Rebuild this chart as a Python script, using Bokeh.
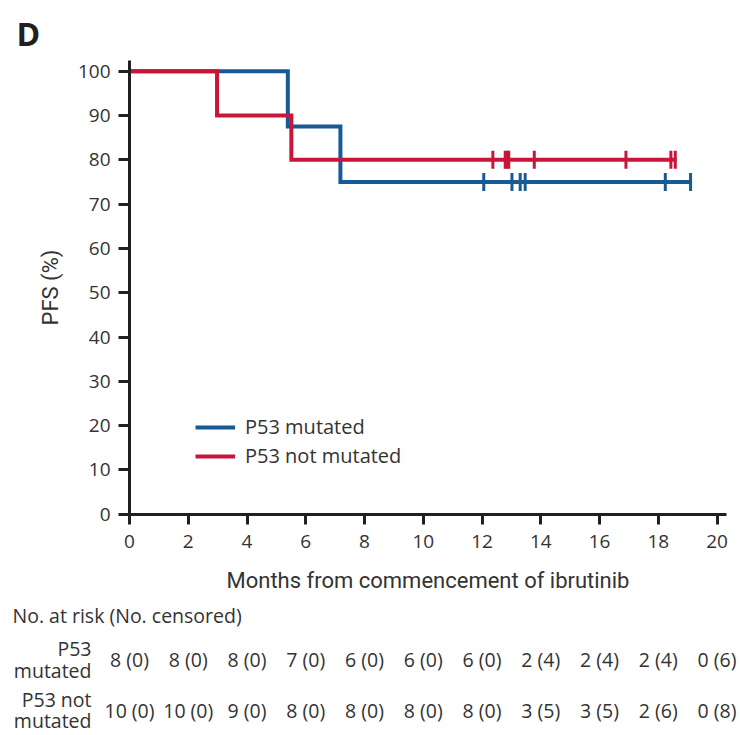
import math
from bokeh.plotting import figure
from bokeh.models import Range1d, Legend, LegendItem, FixedTicker, ColumnDataSource
from bokeh.embed import file_html
from bokeh.resources import INLINE
from bokeh.core.properties import value

# ---------------- data ----------------
mut_event_times = [0, 5.39, 7.18]
mut_surv = [100, 87.5, 75]
mut_last = 19.12
mut_censor = [12.06, 13.02, 13.30, 13.47, 18.24, 19.10]

nm_event_times = [0, 2.98, 5.51]
nm_surv = [100, 90, 80]
nm_last = 18.62
nm_censor = [12.37, 12.79, 12.86, 12.91, 13.78, 16.90, 18.43, 18.58]

x_ticks = [0, 2, 4, 6, 8, 10, 12, 14, 16, 18, 20]
y_ticks = [0, 10, 20, 30, 40, 50, 60, 70, 80, 90, 100]

risk_months = [0, 2, 4, 6, 8, 10, 12, 14, 16, 18, 20]
mut_risk = ["8 (0)", "8 (0)", "8 (0)", "7 (0)", "6 (0)", "6 (0)", "6 (0)", "2 (4)", "2 (4)", "2 (4)", "0 (6)"]
nm_risk = ["10 (0)", "10 (0)", "9 (0)", "8 (0)", "8 (0)", "8 (0)", "8 (0)", "3 (5)", "3 (5)", "2 (6)", "0 (8)"]

labels_mut = ["P53", "mutated"]
labels_nm = ["P53 not", "mutated"]

BLUE = "#175a94"
RED = "#c8163a"
AXIS = "#231f20"
TXT = "#333333"
FONT = "Open Sans"
NARROW = "Roboto"

# ---------------- geometry (canvas pixels) ----------------
W, H = 740, 735
X0_PX, PPM = 129.0, 29.375      # x pixel of month 0, pixels per month
Y0_PX, PPU = 513.7, 4.43        # y pixel of 0 %, pixels per %
X_END, Y_END = 20.31, 102.4     # extent of the drawn axes


def dx(px):
    return (px - X0_PX) / PPM


def dy(py):
    return (Y0_PX - py) / PPU


p = figure(width=W, height=H,
           x_range=Range1d(dx(0), dx(W)), y_range=Range1d(dy(H), dy(0)),
           output_backend="svg", toolbar_location=None,
           min_border=0, min_border_left=0, min_border_right=0,
           min_border_top=0, min_border_bottom=0)
p.outline_line_color = None
p.xgrid.visible = False
p.ygrid.visible = False

r_mut = p.step(x=mut_event_times + [mut_last], y=mut_surv + [mut_surv[-1]], mode="after",
               line_color=BLUE, line_width=4, line_join="miter")
r_nm = p.step(x=nm_event_times + [nm_last], y=nm_surv + [nm_surv[-1]], mode="after",
              line_color=RED, line_width=4, line_join="miter")

p.scatter(x=mut_censor, y=[mut_surv[-1]] * len(mut_censor), marker="dash", angle=math.pi / 2,
          size=18, line_color=BLUE, line_width=3)
p.scatter(x=nm_censor, y=[nm_surv[-1]] * len(nm_censor), marker="dash", angle=math.pi / 2,
          size=18, line_color=RED, line_width=3)

p.xaxis.ticker = FixedTicker(ticks=x_ticks)
p.yaxis.ticker = FixedTicker(ticks=y_ticks)
p.xaxis.fixed_location = 0
p.yaxis.fixed_location = 0
p.xaxis.bounds = (0, X_END)
p.yaxis.bounds = (0, Y_END)
for ax in (p.xaxis, p.yaxis):
    ax.axis_line_color = AXIS
    ax.axis_line_width = 3
    ax.major_tick_line_color = AXIS
    ax.major_tick_line_width = 3
    ax.major_tick_in = 0
    ax.minor_tick_line_color = None
    ax.major_label_text_font = FONT
    ax.major_label_text_font_size = "19px"
    ax.major_label_text_color = TXT
    ax.axis_label_text_font = NARROW
    ax.axis_label_text_font_style = "normal"
    ax.axis_label_text_font_size = "22px"
    ax.axis_label_text_color = TXT
p.xaxis.major_tick_out = 10
p.yaxis.major_tick_out = 11
p.xaxis.major_label_standoff = 11
p.yaxis.major_label_standoff = 8
p.xaxis.axis_label = "Months from commencement of ibrutinib"
p.yaxis.axis_label = "PFS (%)"
p.xaxis.axis_label_standoff = 16
p.yaxis.axis_label_standoff = 12

legend = Legend(items=[LegendItem(label="P53 mutated", renderers=[r_mut]),
                       LegendItem(label="P53 not mutated", renderers=[r_nm])],
                location=(195, H - 469), padding=0, margin=0, spacing=2,
                glyph_width=40, glyph_height=26, label_height=26, label_standoff=10,
                label_text_font=FONT, label_text_font_size="20px", label_text_color=TXT,
                background_fill_alpha=0, border_line_alpha=0)
p.add_layout(legend)

# ---------------- panel letter ----------------
p.text(x=[dx(16)], y=[dy(33)], text=["D"], text_font=value(FONT), text_font_style="bold",
       text_font_size="32px", text_color=AXIS, text_baseline="alphabetic", text_align="left")

# ---------------- at-risk table ----------------
common = dict(text_font=value(FONT), text_font_size="19.5px", text_color=TXT, text_baseline="middle")
p.text(x=[dx(12)], y=[dy(615)], text=["No. at risk (No. censored)"], text_align="left", **common)
p.text(x=[dx(91)] * 2, y=[dy(648), dy(670)], text=labels_mut, text_align="right", **common)
p.text(x=[dx(91)] * 2, y=[dy(699), dy(720)], text=labels_nm, text_align="right", **common)

src_mut = ColumnDataSource(dict(x=risk_months, y=[dy(659)] * len(risk_months), t=mut_risk))
src_nm = ColumnDataSource(dict(x=risk_months, y=[dy(710)] * len(risk_months), t=nm_risk))
p.text(x="x", y="y", text="t", source=src_mut, text_align="center", **common)
p.text(x="x", y="y", text="t", source=src_nm, text_align="center", **common)

open("out.html", "w").write(file_html(p, INLINE))
